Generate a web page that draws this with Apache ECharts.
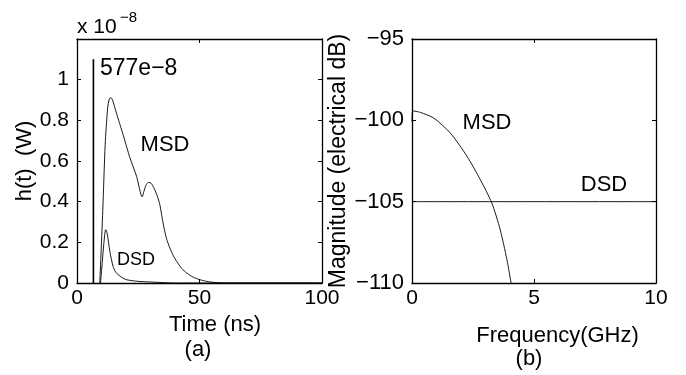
<!DOCTYPE html>
<html>
<head>
<meta charset="utf-8">
<script src="https://cdn.jsdelivr.net/npm/echarts@6/dist/echarts.min.js"></script>
<style>
  html, body { margin: 0; background: #fff; }
  #chart { width: 686px; height: 375px; }
</style>
</head>
<body>
<div id="chart"></div>
<script>
// tick labels
const timeTicks = ['0', '50', '100'];
const powerTicks = ['0', '0.2', '0.4', '0.6', '0.8', '1', ''];
const freqTicks = ['0', '5', '10'];
const magTicks = ['\u2212110', '\u2212105', '\u2212100', '\u221295'];

// (a) impulse response h(t), power in units of 1e-8 W
const losTime = [6.7, 6.7];
const losPower = [0, 1.1];

const msdTime = [9.3, 10.5, 11.5, 12.5, 13.2, 13.8, 14.5, 15.5, 17, 18.8, 21.6, 24.3, 26.6,
  27.3, 28.2, 29.3, 30.3, 31.5, 32.7, 33.8, 35.2, 36.5, 37.9, 39.3, 40.7, 42.7, 44.8, 47.5,
  50.2, 53, 56, 60, 100];
const msdPower = [0, 0.35, 0.68, 0.86, 0.905, 0.912, 0.9, 0.86, 0.8, 0.73, 0.616, 0.525, 0.424,
  0.45, 0.482, 0.495, 0.49, 0.465, 0.43, 0.386, 0.29, 0.22, 0.172, 0.135, 0.106, 0.072, 0.049, 0.028,
  0.016, 0.008, 0.003, 0, 0];

const dsdTime = [9.6, 10.3, 11, 11.7, 12.3, 13.4, 14.7, 15.7, 16.8, 18.5, 20.2, 25, 30, 35, 40, 100];
const dsdPower = [0, 0.1, 0.2, 0.262, 0.245, 0.156, 0.082, 0.055, 0.041, 0.026, 0.016, 0.008, 0.005, 0.002, 0, 0];

// (b) frequency response, dB
const msdFreq = [0, 0.03, 0.34, 0.89, 1.57, 2.25, 2.8, 3.27, 3.61, 3.89, 4.06];
const msdMag = [-100.1, -99.42, -99.51, -99.86, -100.78, -102.2, -103.65, -105.08, -106.7, -108.56, -110];
const dsdFreq = [0, 10];
const dsdMag = [-105, -105];

const FONT = 'Liberation Sans';
const zip = (xs, ys) => xs.map((x, i) => [x, ys[i]]);

function makeAxis(gridIndex, position, min, max, interval, labels, showLabels) {
  return {
    type: 'value',
    gridIndex,
    position,
    min,
    max,
    interval,
    axisLine: { show: true, onZero: false, lineStyle: { color: '#000', width: 1.3 } },
    axisTick: { show: true, inside: true, length: 4, lineStyle: { color: '#000', width: 1 } },
    splitLine: { show: false },
    axisLabel: {
      show: showLabels,
      color: '#000',
      fontFamily: FONT,
      fontSize: 21,
      margin: position === 'left' ? 8 : 5,
      formatter: (v) => labels[Math.round((v - min) / interval)] ?? '',
    },
  };
}

function line(xAxisIndex, yAxisIndex, data, width) {
  return {
    type: 'line',
    xAxisIndex,
    yAxisIndex,
    data,
    symbol: 'none',
    smooth: 0.25,
    silent: true,
    lineStyle: { color: '#000', width: width || 0.9 },
  };
}

const titleStyle = { color: '#000', fontFamily: FONT, fontSize: 22 };

const xTime = makeAxis(0, 'bottom', 0, 100, 50, timeTicks, true);
Object.assign(xTime, {
  name: 'Time (ns)', nameLocation: 'middle', nameGap: 24,
  nameTextStyle: Object.assign({ padding: [0, 0, 0, 31] }, titleStyle),
});
const yPower = makeAxis(0, 'left', 0, 1.2, 0.2, powerTicks, true);
Object.assign(yPower, {
  name: 'h(t)  (W)', nameLocation: 'middle', nameGap: 41, nameTextStyle: titleStyle,
});
const xFreq = makeAxis(1, 'bottom', 0, 10, 5, freqTicks, true);
Object.assign(xFreq, {
  name: 'Frequency(GHz)', nameLocation: 'middle', nameGap: 42,
  nameTextStyle: Object.assign({ padding: [0, 0, 0, 47] }, titleStyle),
});
const yMag = makeAxis(1, 'left', -110, -95, 5, magTicks, true);
yMag.axisLabel.fontSize = 22;
Object.assign(yMag, {
  name: 'Magnitude (electrical dB)', nameLocation: 'middle', nameGap: 62,
  nameTextStyle: Object.assign({}, titleStyle, { fontSize: 23 }),
});

const chart = echarts.init(document.getElementById('chart'), null, { renderer: 'canvas' });

chart.setOption({
  animation: false,
  backgroundColor: '#fff',
  grid: [
    { left: 77, top: 39, width: 245, height: 244 },
    { left: 412, top: 39, width: 244, height: 244 },
  ],
  xAxis: [
    xTime,
    makeAxis(0, 'top', 0, 100, 50, timeTicks, false),
    xFreq,
    makeAxis(1, 'top', 0, 10, 5, freqTicks, false),
  ],
  yAxis: [
    yPower,
    makeAxis(0, 'right', 0, 1.2, 0.2, powerTicks, false),
    yMag,
    makeAxis(1, 'right', -110, -95, 5, magTicks, false),
  ],
  series: [
    line(0, 0, zip(losTime, losPower), 1.6),
    line(0, 0, zip(msdTime, msdPower)),
    line(0, 0, zip(dsdTime, dsdPower)),
    line(2, 2, zip(msdFreq, msdMag)),
    line(2, 2, zip(dsdFreq, dsdMag)),
  ],
  graphic: [
    { type: 'text', style: { text: 'x 10', x: 77, y: 27, verticalAlign: 'middle', font: '21px ' + FONT, fill: '#000' } },
    { type: 'text', style: { text: '\u22128', x: 120, y: 18, verticalAlign: 'middle', font: '15px ' + FONT, fill: '#000' } },
    { type: 'text', style: { text: '577e\u22128', x: 100, y: 69, verticalAlign: 'middle', font: '23px ' + FONT, fill: '#000' } },
    { type: 'text', style: { text: 'MSD', x: 165, y: 145, align: 'center', verticalAlign: 'middle', font: '22px ' + FONT, fill: '#000' } },
    { type: 'text', style: { text: 'DSD', x: 136, y: 260, align: 'center', verticalAlign: 'middle', font: '18px ' + FONT, fill: '#000' } },
    { type: 'text', style: { text: 'MSD', x: 487, y: 123, align: 'center', verticalAlign: 'middle', font: '22px ' + FONT, fill: '#000' } },
    { type: 'text', style: { text: 'DSD', x: 604, y: 185, align: 'center', verticalAlign: 'middle', font: '22px ' + FONT, fill: '#000' } },
    { type: 'text', style: { text: '(a)', x: 198, y: 350, align: 'center', verticalAlign: 'middle', font: '22px ' + FONT, fill: '#000' } },
    { type: 'text', style: { text: '(b)', x: 529, y: 359, align: 'center', verticalAlign: 'middle', font: '22px ' + FONT, fill: '#000' } },
  ],
});
</script>
</body>
</html>
